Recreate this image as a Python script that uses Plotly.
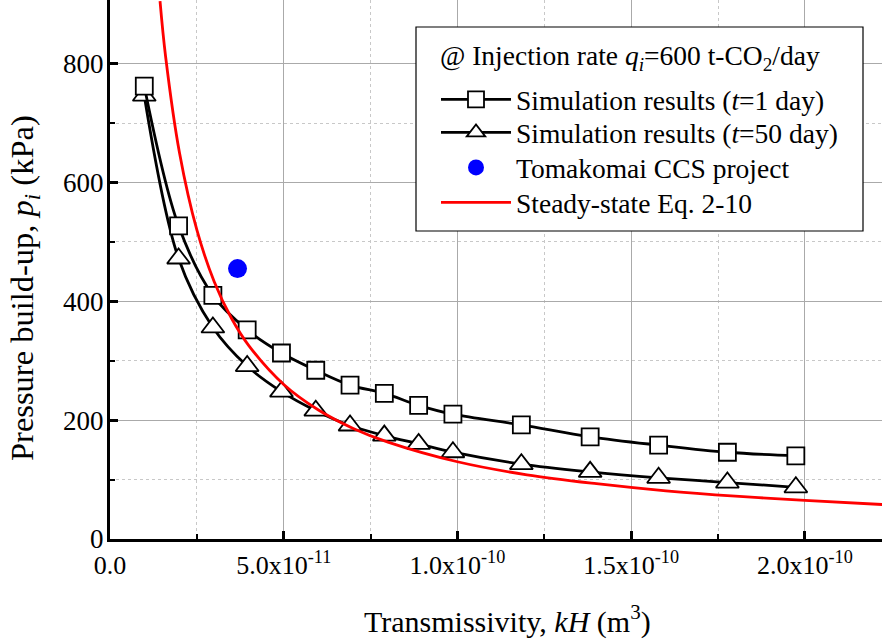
import plotly.graph_objects as go

# ---- data ----
kh_sim = [0.987e-11, 1.974e-11, 2.961e-11, 3.948e-11, 4.935e-11, 5.922e-11, 6.909e-11,
          7.896e-11, 8.883e-11, 9.87e-11, 1.184e-10, 1.382e-10, 1.579e-10, 1.777e-10, 1.974e-10]
p_day1 = [762, 527, 410, 352, 313, 284, 259, 245, 225, 210, 192, 172, 158, 146, 140]
p_day50 = [746, 472, 356, 291, 248, 216, 191, 174, 160, 146, 126, 113, 103, 95, 87]

kh_tomakomai = [3.67e-11]
p_tomakomai = [455]

kh_steady = [1.44e-11, 1.6e-11, 2.0e-11, 2.5e-11, 3.0e-11, 3.5e-11, 4.0e-11, 5.0e-11, 6.0e-11,
             7.0e-11, 8.0e-11, 1.0e-10, 1.2e-10, 1.4e-10, 1.6e-10, 1.8e-10, 2.0e-10, 2.225e-10]
p_steady = [905, 812, 650, 520, 433, 371, 325, 260, 217, 186, 163, 130, 108, 93, 81, 72, 65, 58]

x_tickvals = [0, 5e-11, 1e-10, 1.5e-10, 2e-10]
x_ticktext = ["0.0", "5.0x10<sup>-11</sup>", "1.0x10<sup>-10</sup>",
              "1.5x10<sup>-10</sup>", "2.0x10<sup>-10</sup>"]
y_tickvals = [0, 200, 400, 600, 800]

legend_title = "@ Injection rate <i>q</i><sub><i>i</i></sub>=600 t-CO<sub>2</sub>/day"
x_title = "Transmissivity, <i>kH</i> (m<sup>3</sup>)"
y_title = "Pressure build-up, <i>p</i><sub><i>i</i></sub> (kPa)"

FONT = "Liberation Serif, Times New Roman, serif"

# plot-area pixel helpers (plot area: x 110..882, y 0..539)
PL, PR, PT, PB = 110, 882, 0, 539


def px(x):
    return (x - PL) / (PR - PL)


def py(y):
    return 1 - (y - PT) / (PB - PT)


fig = go.Figure()

fig.add_trace(go.Scatter(
    x=kh_sim, y=p_day50, mode="lines+markers", line_shape="spline",
    name="Simulation results (<i>t</i>=50 day)", legend="legend2",
    line=dict(color="black", width=2.8),
    marker=dict(symbol="triangle-up", size=20, color="white",
                line=dict(color="black", width=1.8)),
))
fig.add_trace(go.Scatter(
    x=kh_sim, y=p_day1, mode="lines+markers", line_shape="spline",
    name="Simulation results (<i>t</i>=1 day)", legend="legend",
    line=dict(color="black", width=2.8),
    marker=dict(symbol="square", size=17, color="white",
                line=dict(color="black", width=1.8)),
))
fig.add_trace(go.Scatter(
    x=kh_tomakomai, y=p_tomakomai, mode="markers",
    name="Tomakomai CCS project", legend="legend3",
    marker=dict(symbol="circle", size=19, color="#0000ff"),
))
fig.add_trace(go.Scatter(
    x=kh_steady, y=p_steady, mode="lines", line_shape="spline",
    name="Steady-state Eq. 2-10", legend="legend4",
    line=dict(color="#ff0000", width=2.8),
))

# legend box
fig.add_shape(type="rect", xref="paper", yref="paper", layer="above",
              x0=px(416), x1=px(863), y0=py(231), y1=py(27),
              fillcolor="white", line=dict(color="black", width=1.2))

fig.add_annotation(text=legend_title, xref="paper", yref="paper",
                   x=px(438), y=py(58), xanchor="left", yanchor="middle",
                   showarrow=False, font=dict(family=FONT, size=27.5, color="black"))
fig.add_annotation(text=x_title, xref="paper", yref="paper",
                   x=px(507), y=py(619), xanchor="center", yanchor="middle",
                   showarrow=False, font=dict(family=FONT, size=30, color="black"))
fig.add_annotation(text=y_title, xref="paper", yref="paper", textangle=-90,
                   x=px(24), y=py(288), xanchor="center", yanchor="middle",
                   showarrow=False, font=dict(family=FONT, size=32.5, color="black"))


def legend_at(top_px):
    return dict(
        x=px(436), y=py(top_px), xanchor="left", yanchor="top",
        bgcolor="rgba(0,0,0,0)", borderwidth=0,
        font=dict(family=FONT, size=27.5, color="black"),
        tracegroupgap=0, itemwidth=70,
    )


fig.update_layout(
    width=882, height=641,
    margin=dict(l=110, r=0, t=0, b=102),
    paper_bgcolor="white", plot_bgcolor="white",
    font=dict(family=FONT, size=26, color="black"),
    showlegend=True,
    legend=legend_at(75),
    legend2=legend_at(108),
    legend3=legend_at(143),
    legend4=legend_at(178),
    xaxis=dict(
        range=[0, 2.222e-10], tickvals=x_tickvals, ticktext=x_ticktext,
        showline=True, linecolor="black", linewidth=3, mirror=False,
        ticks="inside", ticklen=8, tickwidth=2.5, tickcolor="black",
        showgrid=True, gridcolor="#aaaaaa", gridwidth=1, zeroline=False,
        minor=dict(tickvals=[2.5e-11, 7.5e-11, 1.25e-10, 1.75e-10], ticks="inside",
                   ticklen=5, tickwidth=2, tickcolor="black",
                   showgrid=True, gridcolor="#c8c8c8", griddash="dot", gridwidth=1),
        tickfont=dict(family=FONT, size=26),
        ticklabelstandoff=1,
    ),
    yaxis=dict(
        range=[0, 907], tickvals=y_tickvals,
        showline=True, linecolor="black", linewidth=3, mirror=False,
        ticks="inside", ticklen=8, tickwidth=2.5, tickcolor="black",
        showgrid=True, gridcolor="#aaaaaa", gridwidth=1, zeroline=False,
        minor=dict(tickvals=[100, 300, 500, 700], ticks="inside",
                   ticklen=5, tickwidth=2, tickcolor="black",
                   showgrid=True, gridcolor="#c8c8c8", griddash="dot", gridwidth=1),
        tickfont=dict(family=FONT, size=27),
        ticklabelstandoff=-2,
    ),
)

fig.write_html("out.html")
